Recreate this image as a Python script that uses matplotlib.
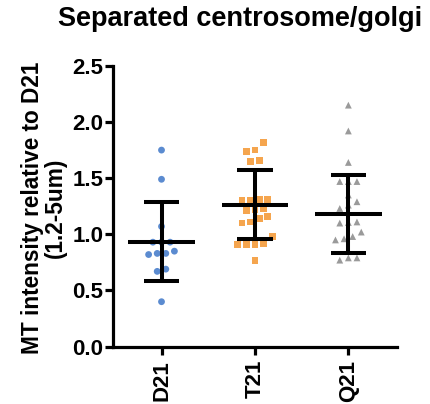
import numpy as np
import matplotlib
matplotlib.use("Agg")
import matplotlib.pyplot as plt

plt.rcParams['font.family'] = ['Liberation Sans', 'DejaVu Sans']
plt.rcParams['font.weight'] = 'bold'

# ---- data ----
categories = ["D21", "T21", "Q21"]
d21 = [1.75, 1.49, 1.07, 0.93, 0.93, 0.93, 0.85, 0.83, 0.83, 0.82, 0.69, 0.67, 0.40]
t21 = [1.82, 1.75, 1.74, 1.66, 1.65, 1.31, 1.31, 1.30, 1.30, 1.23, 1.22, 1.21,
       1.16, 1.14, 1.11, 1.10, 0.98, 0.92, 0.91, 0.91, 0.91, 0.77]
q21 = [2.15, 1.92, 1.64, 1.47, 1.47, 1.47, 1.35, 1.29, 1.26, 1.23, 1.11, 1.105, 1.10,
       1.02, 0.98, 0.96, 0.95, 0.79, 0.79, 0.77]
means = [0.935, 1.262, 1.185]
sd_upper = [1.286, 1.573, 1.53]
sd_lower = [0.588, 0.956, 0.83]

series = [d21, t21, q21]
colors = ["#5b8bd0", "#f5a54e", "#9a9a9a"]
markers = ["o", "s", "^"]


def row_offsets(values, tol=0.085, spacing=0.092):
    """GraphPad-like symmetric rows: group close values, spread each row evenly."""
    vals = np.sort(np.asarray(values, dtype=float))
    xs, ys = [], []
    i = 0
    while i < len(vals):
        j = i
        while j + 1 < len(vals) and vals[j + 1] - vals[i] <= tol:
            j += 1
        row = vals[i:j + 1]
        n = len(row)
        offs = (np.arange(n) - (n - 1) / 2.0) * spacing
        xs.extend(offs)
        ys.extend(row)
        i = j + 1
    return np.array(xs), np.array(ys)


fig = plt.figure(figsize=(4.31, 4.04), dpi=100)
ax = fig.add_axes([0.262, 0.142, 0.659, 0.695])

for k, vals in enumerate(series):
    dx, vy = row_offsets(vals)
    ax.scatter(k + dx, vy, s=24, marker=markers[k], color=colors[k],
               edgecolors='none', zorder=2)
    # error bars (mean +/- SD)
    ax.plot([k - 0.355, k + 0.355], [means[k], means[k]], color='black', lw=2.9,
            solid_capstyle='butt', zorder=3)
    ax.plot([k, k], [sd_lower[k], sd_upper[k]], color='black', lw=2.9,
            solid_capstyle='butt', zorder=3)
    for yv in (sd_lower[k], sd_upper[k]):
        ax.plot([k - 0.19, k + 0.19], [yv, yv], color='black', lw=2.9,
                solid_capstyle='butt', zorder=3)

ax.set_xlim(-0.52, 2.52)
ax.set_ylim(0, 2.5)
ax.set_yticks([0.0, 0.5, 1.0, 1.5, 2.0, 2.5])
ax.set_yticklabels(["0.0", "0.5", "1.0", "1.5", "2.0", "2.5"])
ax.set_xticks(range(len(categories)))
ax.set_xticklabels(categories, rotation=90)

for side in ("top", "right"):
    ax.spines[side].set_visible(False)
for side in ("left", "bottom"):
    ax.spines[side].set_linewidth(2.3)
ax.tick_params(axis='both', length=5.5, width=2.3, labelsize=16, direction='out')
ax.tick_params(axis='y', pad=1.5)
ax.tick_params(axis='x', pad=4)
for lab in ax.get_xticklabels() + ax.get_yticklabels():
    lab.set_fontweight('bold')

fig.text(0.557, 0.952, "Separated centrosome/golgi", ha='center', va='center',
         fontsize=19.5, fontweight='bold')
fig.text(0.102, 0.485, "MT intensity relative to D21\n(1.2-5um)", rotation=90,
         ha='center', va='center', multialignment='center', fontsize=16.3,
         fontweight='bold', linespacing=1.0)

fig.savefig("out.png", dpi=100)
